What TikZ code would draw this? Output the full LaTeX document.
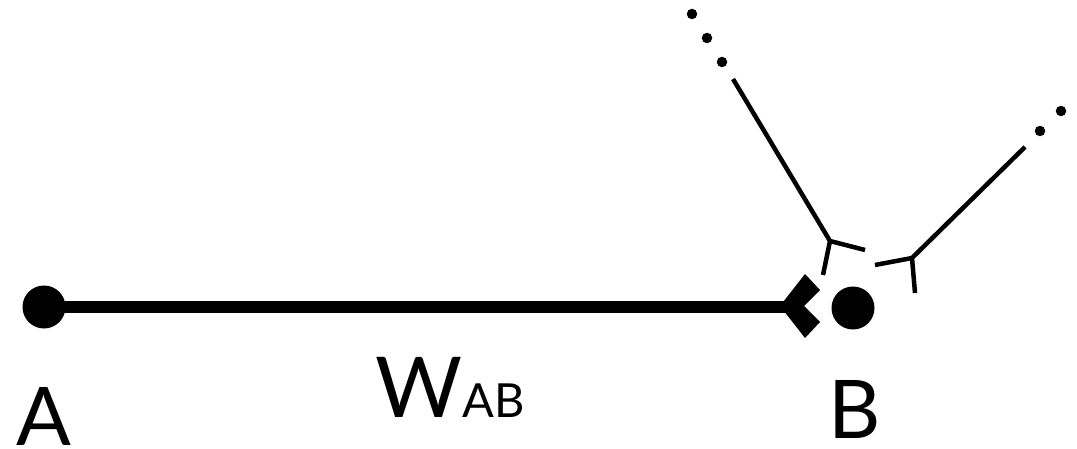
\documentclass[tikz,border=0pt]{standalone}
\usepackage{fontspec}
\setmainfont{Lato}
\begin{document}
\begin{tikzpicture}[x=1pt,y=-1pt,
  soma/.style={circle,fill=black,inner sep=0pt,minimum size=43pt},
  dotsm/.style={circle,fill=black,inner sep=0pt,minimum size=10.5pt},
  axon/.style={line width=12pt},
  dendr/.style={line width=4.5pt},
  lbl/.style={inner sep=0pt,font=\fontsize{81}{90}\selectfont}]
\useasboundingbox (0,0) rectangle (1077,449);
% somata
\node[soma] (A) at (44,307) {};
\node[soma] (B) at (853,308) {};
% axon with terminal
\coordinate (T) at (790,307);
\draw[axon] (A.center) -- (T);
\fill (780,306) -- (805,274) -- (820,290) -- (804,306) -- (820,322) -- (805,338) -- cycle;
% incoming line 1
\coordinate (s1) at (733,79);
\coordinate (j1) at (830,241);
\coordinate (a1) at (865,250);
\coordinate (b1) at (823,275);
\draw[dendr] (s1) -- (j1) -- (a1);
\draw[dendr] (j1) -- (b1);
\node[dotsm] (d11) at (692,14) {};
\node[dotsm] (d12) at (707,38) {};
\node[dotsm] (d13) at (722,62) {};
% incoming line 2
\coordinate (s2) at (1025,147);
\coordinate (j2) at (912,258);
\coordinate (a2) at (875,265);
\coordinate (b2) at (915,293);
\draw[dendr] (s2) -- (j2) -- (a2);
\draw[dendr] (j2) -- (b2);
\node[dotsm] (d21) at (1040,131) {};
\node[dotsm] (d22) at (1061,111) {};
% labels
\node[lbl,anchor=base] (LA) at (44,445) {A};
\node[lbl,anchor=base] (LB) at (855,438) {B};
\node[inner sep=0pt,anchor=base,font=\fontsize{84}{90}\selectfont] (LW) at (450,417) {W{\fontsize{47}{50}\selectfont AB}};
\end{tikzpicture}
\end{document}
